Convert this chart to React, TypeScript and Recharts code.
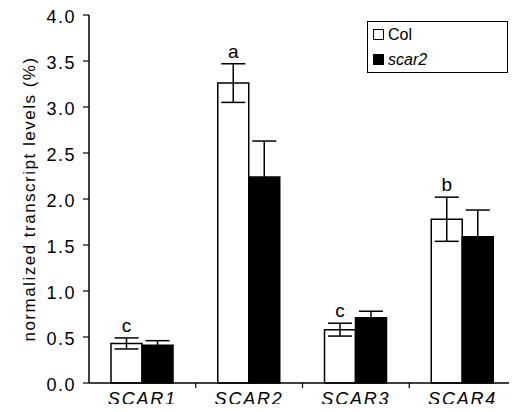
import {
  Bar,
  BarChart,
  ErrorBar,
  LabelList,
  Legend,
  XAxis,
  YAxis,
} from "recharts";

const genes = ["SCAR1", "SCAR2", "SCAR3", "SCAR4"];
const colLevels = [0.43, 3.26, 0.58, 1.78];
const colSd = [0.06, 0.21, 0.07, 0.24];
const scar2Levels = [0.41, 2.24, 0.71, 1.59];
const scar2Sd = [0.05, 0.39, 0.07, 0.29];
const groupLetters = ["c", "a", "c", "b"];
const yTicks = [0, 0.5, 1, 1.5, 2, 2.5, 3, 3.5, 4];

const data = genes.map((gene, i) => ({
  gene,
  col: colLevels[i],
  colSd: colSd[i],
  scar2: scar2Levels[i],
  scar2Sd: scar2Sd[i],
}));

const W = 517;
const H = 412;
const MARGIN = { top: 15, right: 1, bottom: 0, left: 0 };
const Y_AXIS_W = 89;
const X_AXIS_H = 29;
const BAND = (W - MARGIN.left - MARGIN.right - Y_AXIS_W) / genes.length;

const FONT = "'Liberation Sans', Arial, Helvetica, sans-serif";

function YTick({ x, y, payload }: any) {
  return (
    <text
      x={x}
      y={y + 8}
      textAnchor="end"
      fontFamily={FONT}
      fontSize={18}
      letterSpacing={1.5}
      fill="#000"
    >
      {Number(payload.value).toFixed(1)}
    </text>
  );
}

function XTick({ x, y, payload, index }: any) {
  return (
    <g>
      {index > 0 && (
        <line x1={x - BAND / 2} x2={x - BAND / 2} y1={y} y2={y + 5} stroke="#000" strokeWidth={1.2} />
      )}
      <text
        x={x}
        y={y + 22}
        textAnchor="middle"
        fontFamily={FONT}
        fontSize={18}
        fontStyle="italic"
        letterSpacing={1.8}
        fill="#000"
      >
        {payload.value}
      </text>
    </g>
  );
}

function YLabel({ viewBox }: any) {
  const cx = 29;
  const cy = viewBox.y + viewBox.height / 2;
  return (
    <text
      x={cx}
      y={cy}
      transform={`rotate(-90, ${cx}, ${cy})`}
      textAnchor="middle"
      dominantBaseline="central"
      fontFamily={FONT}
      fontSize={17}
      letterSpacing={1.5}
      fill="#000"
    >
      normalized transcript levels (%)
    </text>
  );
}

function LetterLabel({ x, y, width, height, value, index }: any) {
  const errTop = y - (colSd[index] * height) / value;
  return (
    <text
      x={x + width / 2}
      y={errTop - 6}
      textAnchor="middle"
      fontFamily={FONT}
      fontSize={19}
      fill="#000"
    >
      {groupLetters[index]}
    </text>
  );
}

function LegendBox() {
  const row = { display: "flex", alignItems: "center", height: 25 };
  const swatch = { width: 9, height: 9, border: "1.2px solid #000", marginLeft: 5, marginRight: 4 };
  return (
    <div
      style={{
        width: 141,
        height: 52,
        border: "1.2px solid #000",
        background: "#fff",
        fontFamily: FONT,
        fontSize: 16,
        color: "#000",
        boxSizing: "border-box",
      }}
    >
      <div style={row}>
        <span style={{ ...swatch, background: "#fff" }} />
        <span>Col</span>
      </div>
      <div style={row}>
        <span style={{ ...swatch, background: "#000" }} />
        <span style={{ fontStyle: "italic" }}>scar2</span>
      </div>
    </div>
  );
}

export default function App() {
  return (
    <div style={{ margin: -8, width: W, height: H, background: "#fff" }}>
      <BarChart width={W} height={H} data={data} margin={MARGIN} barGap={0} barSize={31}>
        <XAxis
          dataKey="gene"
          height={X_AXIS_H}
          axisLine={{ stroke: "#000", strokeWidth: 1.5 }}
          tickLine={false}
          tickSize={0}
          tickMargin={0}
          tick={<XTick />}
          interval={0}
        />
        <XAxis
          xAxisId="top"
          dataKey="gene"
          orientation="top"
          height={0}
          tick={false}
          tickLine={false}
          axisLine={{ stroke: "#000", strokeWidth: 1.2 }}
        />
        <YAxis
          domain={[0, 4]}
          ticks={yTicks}
          width={Y_AXIS_W}
          axisLine={{ stroke: "#000", strokeWidth: 1.5 }}
          tickLine={{ stroke: "#000", strokeWidth: 1.2 }}
          tickSize={6}
          tickMargin={7}
          tick={<YTick />}
          interval={0}
          label={<YLabel />}
        />
        <YAxis
          yAxisId="right"
          orientation="right"
          domain={[0, 4]}
          width={0}
          tick={false}
          tickLine={false}
          axisLine={{ stroke: "#000", strokeWidth: 1 }}
        />
        <Legend
          layout="vertical"
          align="center"
          verticalAlign="middle"
          content={<LegendBox />}
          wrapperStyle={{ left: 367, top: 21, width: 141, height: 52 }}
        />
        <Bar dataKey="col" name="Col" fill="#fff" stroke="#000" strokeWidth={1.5} isAnimationActive={false}>
          <ErrorBar dataKey="colSd" width={12} stroke="#000" strokeWidth={1.5} />
          <LabelList dataKey="col" content={<LetterLabel />} />
        </Bar>
        <Bar dataKey="scar2" name="scar2" fill="#000" stroke="#000" strokeWidth={1.5} isAnimationActive={false}>
          <ErrorBar dataKey="scar2Sd" width={12} stroke="#000" strokeWidth={1.5} />
        </Bar>
      </BarChart>
    </div>
  );
}
